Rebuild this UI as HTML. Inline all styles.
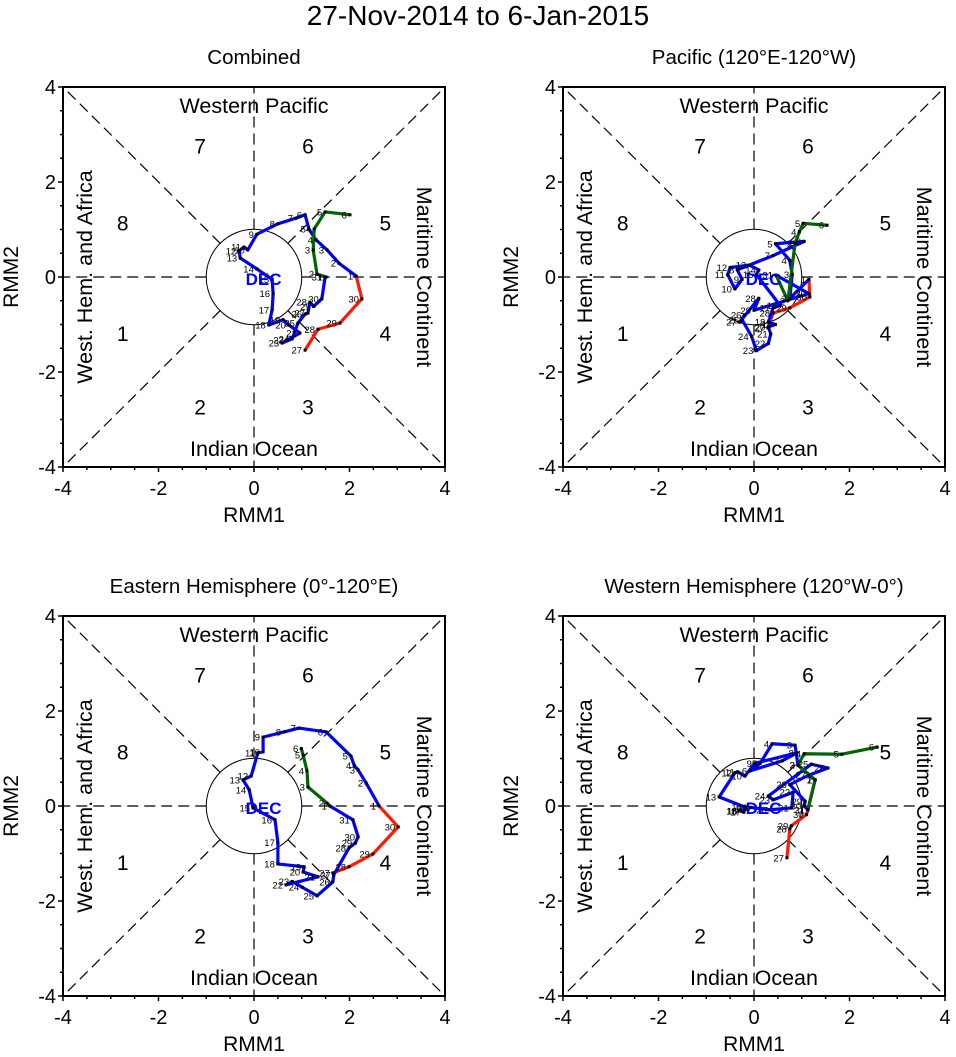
<!DOCTYPE html>
<html><head><meta charset="utf-8">
<style>
body{margin:0;background:#fff;}
svg{display:block;font-family:"Liberation Sans",Arial,sans-serif;}
</style></head>
<body>
<svg id="chart" width="956" height="1057" viewBox="0 0 956 1057" xmlns="http://www.w3.org/2000/svg">
<text x="478" y="25" text-anchor="middle" font-size="28">27-Nov-2014 to 6-Jan-2015</text>
</svg>
<script>
const panelTitles = ["Combined","Pacific (120°E-120°W)","Eastern Hemisphere (0°-120°E)","Western Hemisphere (120°W-0°)"];
const tickLabels = [-4,-2,0,2,4];
const novDays = [27,28,29,30];
const decDays = [1,2,3,4,5,6,7,8,9,10,11,12,13,14,15,16,17,18,19,20,21,22,23,24,25,26,27,28,29,30,31];
const janDays = [1,2,3,4,5,6];
// panel 1 Combined
const p1NovX=[1.07,1.34,1.80,2.26], p1NovY=[-1.54,-1.10,-0.97,-0.46];
const p1DecX=[2.14,1.78,1.53,1.30,1.15,1.07,0.88,0.50,0.06,-0.13,-0.21,-0.31,-0.29,0.06,0.38,0.40,0.38,0.31,0.61,0.73,0.96,0.69,0.59,0.80,0.92,1.07,1.13,1.17,1.25,1.42,1.49];
const p1DecY=[0.02,0.29,0.57,0.78,1.01,1.31,1.24,1.12,0.90,0.57,0.63,0.55,0.40,0.17,-0.05,-0.35,-0.69,-1.01,-0.90,-1.01,-1.18,-1.33,-1.39,-1.30,-0.97,-0.78,-0.76,-0.53,-0.62,-0.46,0.0];
const p1JanX=[1.51,1.32,1.24,1.26,1.49,2.01], p1JanY=[0.0,0.06,0.57,1.01,1.37,1.31];
// panel 2 Pacific
const p2NovX=[0.29,0.40,0.75,1.17], p2NovY=[-1.07,-0.76,-0.65,-0.42];
const p2DecX=[1.15,0.75,0.80,0.75,0.45,1.05,0.40,-0.35,-0.25,-0.40,-0.55,-0.50,-0.10,0.10,0.05,0.55,0.40,0.30,0.45,0.30,0.35,0.30,0.05,-0.05,-0.25,-0.20,-0.30,0.10,0.00,1.15,0.46];
const p2DecY=[-0.05,-0.45,0.05,0.35,0.70,0.75,0.45,0.15,-0.05,-0.25,0.05,0.20,0.25,0.15,0.05,-0.60,-0.65,-0.95,-1.00,-1.05,-1.20,-1.40,-1.55,-1.25,-0.90,-0.80,-0.95,-0.45,-0.70,-0.35,0.04];
const p2JanX=[0.46,0.71,0.86,0.95,1.03,1.53], p2JanY=[0.04,-0.50,0.71,0.95,1.13,1.09];
// panel 3 Eastern Hemisphere
const p3NovX=[1.65,1.99,2.49,3.02], p3NovY=[-1.41,-1.28,-1.01,-0.44];
const p3DecX=[2.62,2.35,2.18,2.10,2.03,1.51,0.94,0.63,0.19,0.19,0.08,-0.06,-0.23,-0.10,-0.02,0.44,0.50,0.50,1.05,1.03,1.34,0.67,0.80,1.01,1.32,1.65,1.67,1.99,2.12,2.18,2.07];
const p3DecY=[0.0,0.48,0.76,0.85,1.05,1.56,1.64,1.56,1.45,1.14,1.12,0.63,0.55,0.34,-0.04,-0.29,-0.77,-1.22,-1.28,-1.39,-1.49,-1.66,-1.59,-1.71,-1.89,-1.60,-1.45,-0.88,-0.78,-0.65,-0.29];
const p3JanX=[1.59,1.53,1.13,1.11,1.03,0.99], p3JanY=[0.0,0.06,0.40,0.74,1.07,1.21];
// panel 4 Western Hemisphere
const p4NovX=[0.69,0.75,0.78,1.10], p4NovY=[-1.09,-0.48,-0.42,-0.18];
const p4DecX=[1.28,0.92,0.86,0.38,0.13,-0.08,0.59,0.90,0.02,-0.19,-0.34,-0.40,-0.73,-0.19,-0.12,-0.28,-0.21,-0.30,-0.07,0.33,0.79,0.82,0.40,0.30,1.20,1.55,1.15,0.75,1.07,1.05,1.13];
const p4DecY=[0.55,0.86,1.28,1.31,0.90,0.74,0.95,1.12,0.90,0.63,0.72,0.70,0.19,-0.02,-0.06,-0.10,-0.13,-0.10,-0.03,-0.08,-0.04,0.29,0.13,0.21,0.88,0.80,0.65,0.45,0.10,0.0,-0.08];
const p4JanX=[1.13,1.28,0.92,1.05,1.84,2.58], p4JanY=[-0.08,0.55,0.86,1.10,1.09,1.24];

const panels=[
 {left:63,top:87,t:panelTitles[0],nx:p1NovX,ny:p1NovY,dx:p1DecX,dy:p1DecY,jx:p1JanX,jy:p1JanY},
 {left:563,top:87,t:panelTitles[1],nx:p2NovX,ny:p2NovY,dx:p2DecX,dy:p2DecY,jx:p2JanX,jy:p2JanY},
 {left:63,top:616,t:panelTitles[2],nx:p3NovX,ny:p3NovY,dx:p3DecX,dy:p3DecY,jx:p3JanX,jy:p3JanY},
 {left:563,top:616,t:panelTitles[3],nx:p4NovX,ny:p4NovY,dx:p4DecX,dy:p4DecY,jx:p4JanX,jy:p4JanY}
];
const NS="http://www.w3.org/2000/svg";
const svg=document.getElementById('chart');
function mk(tag,attrs,parent,txt){const e=document.createElementNS(NS,tag);for(const k in attrs)e.setAttribute(k,attrs[k]);if(txt!==undefined)e.textContent=txt;parent.appendChild(e);return e;}
const W=382,H=380;
panels.forEach((p,pi)=>{
 const g=mk('g',{},svg);
 
 
 const sx=v=>p.left+(v+4)/8*W, sy=v=>p.top+(4-v)/8*H;
 const cx=sx(0),cy=sy(0),r=W/8;
 const t=mk('text',{x:cx,y:p.top-23,'text-anchor':'middle','font-size':20.5},g,p.t);
 
 
 const dash={stroke:'#000','stroke-width':1.2,'stroke-dasharray':'11,6',fill:'none'};
 const guides=[[0,4],[0,-4],[4,0],[-4,0],[4,4],[-4,4],[4,-4],[-4,-4]];
 guides.forEach(([gx,gy])=>{
  const len=Math.hypot(gx,gy);const ux=gx/len,uy=gy/len;
  const l=mk('line',Object.assign({x1:sx(ux),y1:sy(uy),x2:sx(gx),y2:sy(gy)},dash),g);
  
  
 });
 const c=mk('circle',{cx:cx,cy:cy,r:r,fill:'none',stroke:'#000','stroke-width':1},g);
 
 
 const lab=(txt,x,y,rot,name)=>{const e=mk('text',{x:x,y:y,'text-anchor':'middle','font-size':21.5,transform:rot?`rotate(${rot} ${x} ${y})`:''},g,txt);};
 lab('Western Pacific',cx,p.top+26,0,'region-western-pacific');
 lab('Indian Ocean',cx,p.top+369,0,'region-indian-ocean');
 lab('West. Hem. and Africa',p.left+29,cy,-90,'region-west-hem-africa');
 lab('Maritime Continent',p.left+354,cy,90,'region-maritime-continent');
 const ph=[['7',-1.13,2.75],['6',1.13,2.75],['8',-2.75,1.13],['5',2.75,1.13],['1',-2.75,-1.2],['4',2.75,-1.2],['2',-1.13,-2.75],['3',1.13,-2.75]];
 ph.forEach(([n,x,y])=>{const e=mk('text',{x:sx(x),y:sy(y)+7,'text-anchor':'middle','font-size':21},g,n);});
 const seg=(xs,ys,col,name)=>{const pts=xs.map((v,i)=>sx(v)+','+sy(ys[i])).join(' ');const e=mk('polyline',{points:pts,fill:'none',stroke:col,'stroke-width':3.2,'stroke-linejoin':'round'},g);};
 seg(p.nx.concat([p.dx[0]]),p.ny.concat([p.dy[0]]),'#ff1a00','nov-trajectory');
 seg(p.dx.concat([p.jx[0]]),p.dy.concat([p.jy[0]]),'#0000ff','dec-trajectory');
 seg(p.jx,p.jy,'#006400','jan-trajectory');
 const dots=(xs,ys,days)=>xs.forEach((v,i)=>{
  const d=mk('rect',{x:sx(v)-1.5,y:sy(ys[i])-1.5,width:3,height:3,fill:'#000'},g);
  
  
  const tl=mk('text',{x:sx(v)-3,y:sy(ys[i])+3.5,'text-anchor':'end','font-size':9.5},g,days[i]);
  
  
 });
 dots(p.nx,p.ny,novDays);dots(p.dx,p.dy,decDays);dots(p.jx,p.jy,janDays);
 const m=mk('text',{x:sx(0.2),y:cy+8,'text-anchor':'middle','font-size':17,'font-weight':'bold',fill:'#0000ff'},g,'DEC');
 
 
 const fr=mk('rect',{x:p.left,y:p.top,width:W,height:H,fill:'none',stroke:'#000','stroke-width':2},g);
 
 
 for(let v=-4;v<=4.001;v+=0.5){
  const major=Math.abs(v%2)<0.01, L=major?5:3;
  mk('line',{x1:sx(v),y1:p.top+H,x2:sx(v),y2:p.top+H+L,stroke:'#000','stroke-width':1.5},g);
  mk('line',{x1:p.left,y1:sy(v),x2:p.left-L,y2:sy(v),stroke:'#000','stroke-width':1.5},g);
 }
 tickLabels.forEach(v=>{
  const a=mk('text',{x:sx(v),y:p.top+H+28,'text-anchor':'middle','font-size':20},g,String(v));
  
  
  const b=mk('text',{x:p.left-7,y:sy(v)+7,'text-anchor':'end','font-size':20},g,String(v));
  
  
 });
 const xt=mk('text',{x:cx,y:p.top+H+55,'text-anchor':'middle','font-size':21},g,'RMM1');
 
 
 const yx=p.left-45;
 const yt=mk('text',{x:yx,y:cy,'text-anchor':'middle','font-size':21,transform:`rotate(-90 ${yx} ${cy})`},g,'RMM2');
 
 
});
</script>
</body></html>
